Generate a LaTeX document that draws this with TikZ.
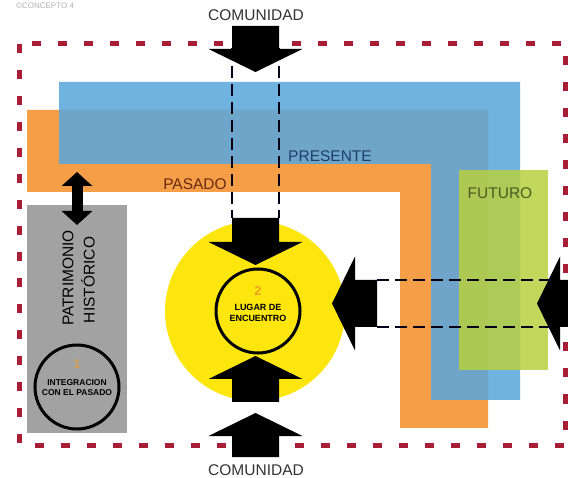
\documentclass[tikz,border=0pt]{standalone}
\usepackage{fontspec}
\setmainfont{Liberation Sans}
\usetikzlibrary{arrows.meta}

\definecolor{naranja}{HTML}{F59E48}
\definecolor{azul}{HTML}{5BA7DC}
\definecolor{verde}{HTML}{B8D040}
\definecolor{amarillo}{HTML}{FDE60E}
\definecolor{gris}{HTML}{A2A2A2}
\definecolor{rojo}{HTML}{A81E36}
\definecolor{txtPresente}{HTML}{1E3F6E}
\definecolor{txtPasado}{HTML}{6A2A12}
\definecolor{txtFuturo}{HTML}{4B5B20}
\definecolor{txtNum}{HTML}{F0A020}

\def \headHalf {47}
\def \shaftHalf {23.5}
\def \headLen {23}

\tikzset{
  pics/flecha/.style={code={
    \fill[black] (0,0) -- (\headHalf,-\headLen) -- (\shaftHalf,-\headLen) -- (\shaftHalf,-#1)
      -- (-\shaftHalf,-#1) -- (-\shaftHalf,-\headLen) -- (-\headHalf,-\headLen) -- cycle;}},
  guia/.style={line width=1.8pt, dash pattern=on 12pt off 6pt, black!90!blue},
  etiqueta/.style={font=\fontsize{15.5}{16}\selectfont},
  chica/.style={font=\bfseries\fontsize{9}{11}\selectfont, align=center},
}

\begin{document}
\begin{tikzpicture}[x=1pt, y=-1pt]
   \fill[white] (0,0) rectangle (568,478);
   \useasboundingbox (0,0) rectangle (568,478);

   % Bandas del tiempo
   \fill[naranja] (27,110) -- (488,110) -- (488,428) -- (400,428) -- (400,192) -- (27,192) -- cycle;
   \fill[azul, opacity=0.87] (59,82) -- (520,82) -- (520,400) -- (431,400) -- (431,164) -- (59,164) -- cycle;
   \fill[verde, opacity=0.85] (459,170) rectangle (548,370);

   \node[etiqueta, text=txtPresente] (presente) at (330,156) {PRESENTE};
   \node[etiqueta, text=txtPasado] (pasado) at (195,184) {PASADO};
   \node[etiqueta, text=txtFuturo] (futuro) at (500,193) {FUTURO};

   % Patrimonio historico
   \fill[gris] (27,205) rectangle (127,433);
   \node[etiqueta, rotate=90] (patrimonio) at (68,278) {PATRIMONIO};
   \node[etiqueta, rotate=90] (historico) at (88,280) {HISTÓRICO};
   \draw[line width=3pt] (77,387) circle (42);
   \node[font=\bfseries\fontsize{13}{13}\selectfont, text=txtNum, opacity=0.6] (uno) at (77,364) {1};
   \node[chica, font=\bfseries\fontsize{8.5}{10}\selectfont] (integracion) at (77,388) {INTEGRACION\\CON EL PASADO};

   \coordinate (histArriba) at (77,172);
   \coordinate (histAbajo) at (77,225);
   \draw[line width=11pt, {Triangle[length=14pt,width=30pt]}-{Triangle[length=14pt,width=30pt]}] (histArriba) -- (histAbajo);

   % Lugar de encuentro
   \fill[amarillo] (255,311) circle (90);
   \draw[line width=3pt] (258,311) circle (42);
   \node[font=\bfseries\fontsize{13}{13}\selectfont, text=txtNum] (dos) at (258,291) {2};
   \node[chica] (lugar) at (258,313) {LUGAR DE\\ENCUENTRO};

   % Borde
   \draw[rojo, line width=5pt, dash pattern=on 9pt off 17pt] (19.5,44) rectangle (565,445);

   % Guias punteadas
   \coordinate (vIzqA) at (232,48);
   \coordinate (vIzqB) at (232,218);
   \coordinate (vDerA) at (279,48);
   \coordinate (vDerB) at (279,218);
   \coordinate (hArrA) at (377,280);
   \coordinate (hArrB) at (560,280);
   \coordinate (hAbaA) at (377,327);
   \coordinate (hAbaB) at (560,327);
   \draw[guia] (vIzqA) -- (vIzqB);
   \draw[guia] (vDerA) -- (vDerB);
   \draw[guia] (hArrA) -- (hArrB);
   \draw[guia] (hAbaA) -- (hAbaB);

   % Flechas de la comunidad
   \pic at (255.5,72) {flecha=46};
   \pic at (255.5,265) {flecha=47};
   \pic[rotate=180] at (255.5,356) {flecha=46};
   \pic[rotate=180] at (255.5,413) {flecha=44};
   \pic[rotate=-90] at (332,303.5) {flecha=45};
   \pic[rotate=-90] at (537,303.5) {flecha=60};

   \node[etiqueta, text=black!80] (comArriba) at (256,15) {COMUNIDAD};
   \node[etiqueta, text=black!80] (comAbajo) at (256,470) {COMUNIDAD};
   \node[anchor=west, text=black!30, font=\fontsize{8}{8}\selectfont, inner sep=1pt] (concepto) at (15,6) {©CONCEPTO 4};
\end{tikzpicture}
\end{document}
